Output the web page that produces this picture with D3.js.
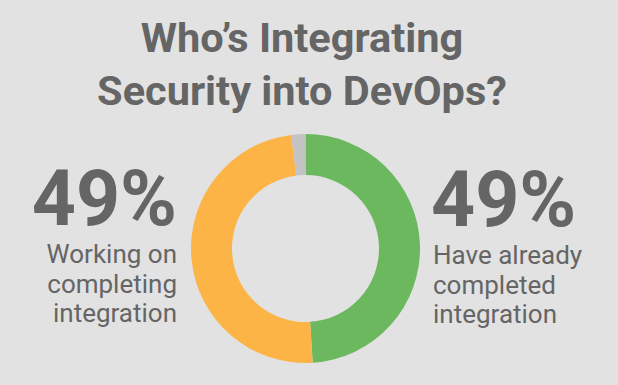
<!DOCTYPE html>
<html><head><meta charset="utf-8">
<script src="https://cdn.jsdelivr.net/npm/d3@7"></script>
<style>html,body{margin:0;padding:0;background:#e2e2e2;}svg{display:block;}</style>
</head><body>
<script>
const titleLines = ["Who\u2019s Integrating", "Security into DevOps?"];
const categories = ["Have already completed integration", "Working on completing integration", "Other"];
const values = [49, 49, 2];
const colors = ["#6cb85f", "#fdb446", "#c3c3c3"];
const leftLabel = ["Working on", "completing", "integration"];
const rightLabel = ["Have already", "completed", "integration"];

const W = 618, H = 385, textColor = "#656565";
const svg = d3.select("body").append("svg").attr("width", W).attr("height", H);
svg.append("rect").attr("width", W).attr("height", H).attr("fill", "#e2e2e2");

svg.selectAll("text.title").data(titleLines).join("text")
  .attr("x", 302).attr("y", (d, i) => 52 + i * 53)
  .attr("text-anchor", "middle").attr("font-family", "Roboto").attr("font-weight", 700)
  .attr("font-size", 41.5).attr("fill", textColor).text(d => d);

const pie = d3.pie().sort(null).value(d => d)(values);
const arc = d3.arc().innerRadius(73.5).outerRadius(114.5);
svg.append("g").attr("transform", "translate(305.5,248.5)")
  .selectAll("path").data(pie).join("path")
  .attr("d", arc).attr("fill", (d, i) => colors[i]);

// Left
svg.append("text").attr("x", 177).attr("y", 225).attr("text-anchor", "end")
  .attr("font-family", "Roboto").attr("font-weight", 700).attr("font-size", 77)
  .attr("fill", textColor).text(values[1] + "%");
svg.selectAll("text.ll").data(leftLabel).join("text")
  .attr("x", 177).attr("y", (d, i) => 263 + i * 29.5).attr("text-anchor", "end")
  .attr("font-family", "Roboto").attr("font-size", 26).attr("fill", textColor).text(d => d);

// Right
svg.append("text").attr("x", 431).attr("y", 226)
  .attr("font-family", "Roboto").attr("font-weight", 700).attr("font-size", 77)
  .attr("fill", textColor).text(values[0] + "%");
svg.selectAll("text.rl").data(rightLabel).join("text")
  .attr("x", 433).attr("y", (d, i) => 264 + i * 29.5)
  .attr("font-family", "Roboto").attr("font-size", 26).attr("fill", textColor).text(d => d);
</script>
</body></html>
